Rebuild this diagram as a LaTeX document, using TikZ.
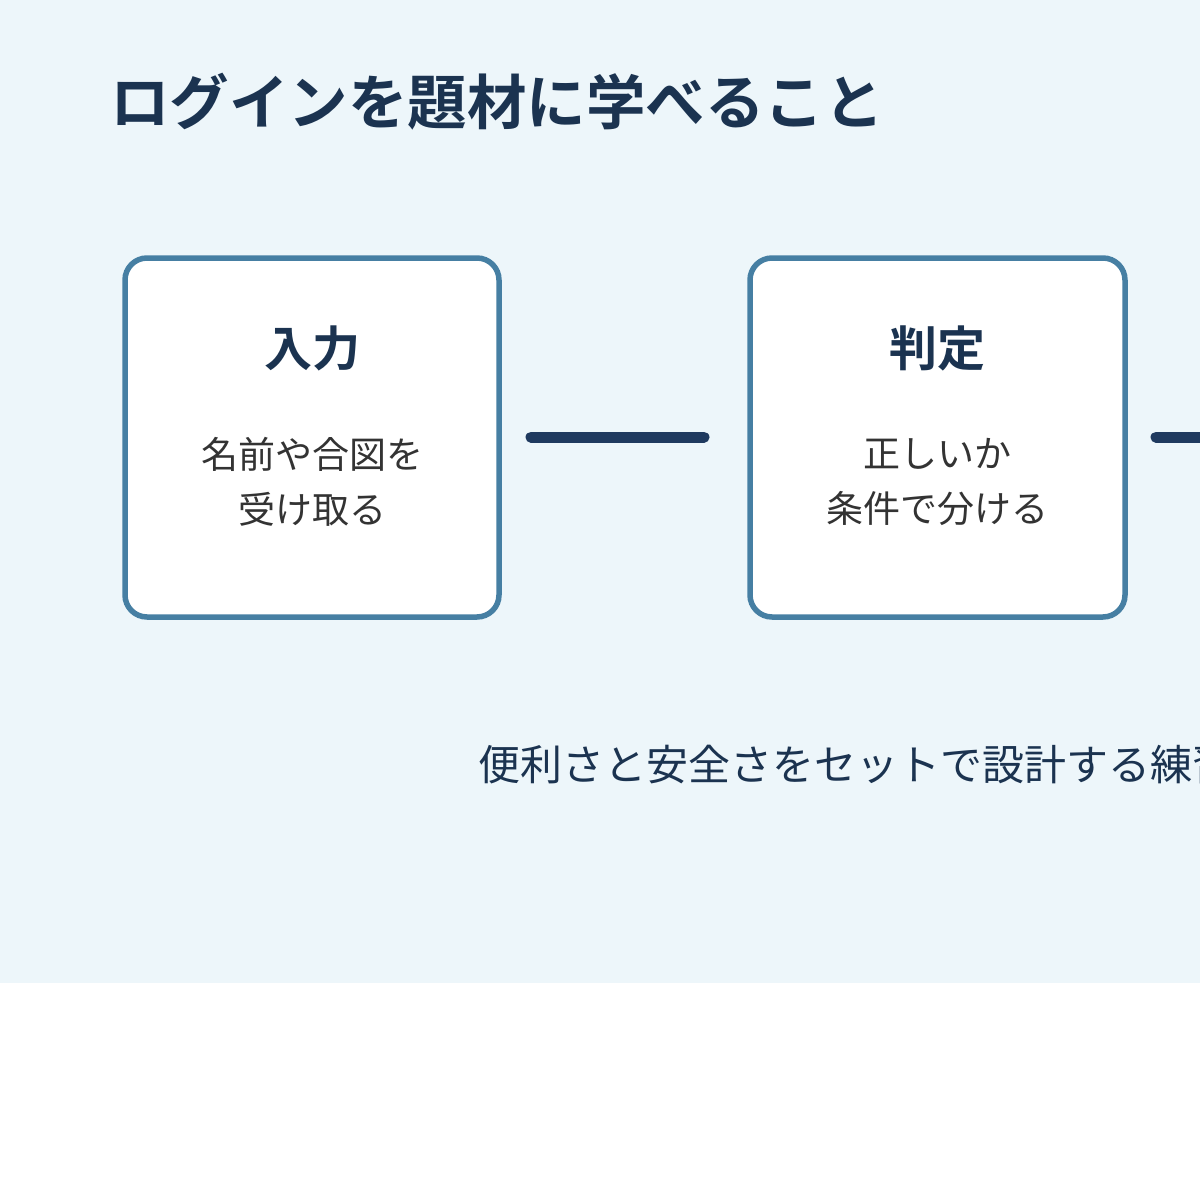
\documentclass[tikz,border=0pt]{standalone}
\usepackage{fontspec}
\newfontfamily\cjk{Noto Sans CJK JP}[BoldFont={Noto Sans CJK JP Bold}]
\definecolor{bg}{HTML}{EDF6FA}
\definecolor{bd}{HTML}{467FA3}
\definecolor{ttl}{HTML}{1B3350}
\definecolor{ln}{HTML}{1F3A5F}
\definecolor{tx}{HTML}{333333}
\tikzset{
 card/.style={draw=bd,line width=5.5pt,fill=white,rounded corners=22pt},
 head/.style={font=\cjk\bfseries\fontsize{48}{52}\selectfont,text=ttl},
 body/.style={font=\cjk\fontsize{37}{55}\selectfont,text=tx,align=center},
 conn/.style={draw=ln,line width=11pt,line cap=round}
}
\begin{document}
\begin{tikzpicture}[x=1pt,y=-1pt]
\useasboundingbox (0,0) rectangle (1200,1200);
\clip (0,0) rectangle (1200,1200);
\fill[bg] (0,0) rectangle (1200,983);
\node[anchor=base west,font=\cjk\bfseries\fontsize{59.5}{60}\selectfont,text=ttl,inner sep=0] (title) at (110,124) {ログインを題材に学べること};
\draw[card] (125,258) rectangle (499,617);
\draw[card] (750,258) rectangle (1125,617);
\node[head] (h1) at (312,348) {入力};
\node[head] (h2) at (937,348) {判定};
\node[body] (b1) at (312,482) {名前や合図を\\受け取る};
\node[body] (b2) at (937,482) {正しいか\\条件で分ける};
\coordinate (l1a) at (531,437); \coordinate (l1b) at (704,437);
\coordinate (l2a) at (1156,437); \coordinate (l2b) at (1330,437);
\draw[conn] (l1a) -- (l1b);
\draw[conn] (l2a) -- (l2b);
\node[anchor=base west,font=\cjk\fontsize{42}{44}\selectfont,text=ttl,inner sep=0] (foot) at (478,780) {便利さと安全さをセットで設計する練習};
\end{tikzpicture}
\end{document}
